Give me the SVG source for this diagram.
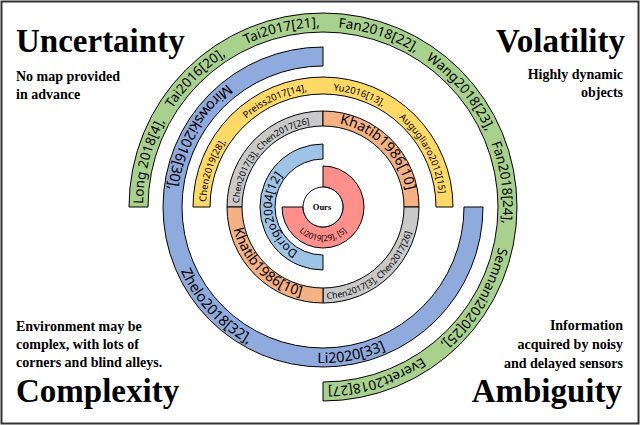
<svg xmlns="http://www.w3.org/2000/svg" width="640" height="425" viewBox="0 0 640 425">
<style>
.ring{stroke:#000;stroke-width:1}
.ref{font-family:"Noto Sans","Open Sans",sans-serif;fill:#000}
.big{font-family:"Liberation Serif",serif;font-weight:bold;font-size:33px}
.sub{font-family:"Liberation Serif",serif;font-weight:bold;font-size:14px}
</style>
<defs>
<path id="pg" d="M143,207 A180,180 0 1 1 323,387"/>
<path id="pb" d="M323,51 A156,156 0 1 0 479,207"/>
<path id="py" d="M206,207 A117,117 0 0 1 440,207"/>
<path id="ptl" d="M239,207 A84,84 0 0 1 323,123"/>
<path id="ptr" d="M323,122 A85,85 0 0 1 408,207"/>
<path id="pbr" d="M323,299 A92,92 0 0 0 415,207"/>
<path id="pbl" d="M231,207 A92,92 0 0 0 323,299"/>
<path id="plb" d="M305.6,254.9 A51,51 0 0 1 323,156"/>
<path id="pr" d="M291,218.6 A34,34 0 0 0 355,218.6"/>
</defs>
<rect x="1.5" y="1.5" width="637" height="422" fill="#fff" stroke="#333" stroke-width="2"/>
<g id="corners">
<text class="big" x="16" y="52">Uncertainty</text>
<text class="sub" x="16" y="81">No map  provided</text>
<text class="sub" x="16" y="99">in advance</text>
<text class="big" x="625" y="52" text-anchor="end">Volatility</text>
<text class="sub" x="623" y="79" text-anchor="end">Highly dynamic</text>
<text class="sub" x="623" y="97" text-anchor="end">objects</text>
<text class="sub" x="16" y="331">Environment  may  be</text>
<text class="sub" x="16" y="349">complex,  with  lots  of</text>
<text class="sub" x="16" y="367">corners and blind alleys.</text>
<text class="big" x="16" y="402">Complexity</text>
<text class="sub" x="623" y="330" text-anchor="end">Information</text>
<text class="sub" x="623" y="349" text-anchor="end">acquired by noisy</text>
<text class="sub" x="623" y="368" text-anchor="end">and delayed sensors</text>
<text class="big" x="622" y="402" text-anchor="end">Ambiguity</text>
</g>
<g id="green">
<path class="ring" fill="#a9d18e" d="M129,207 A194,194 0 1 1 323,401 L323,382 A175,175 0 1 0 148,207 Z"/>
<text class="ref" font-size="13.5"><textPath href="#pg" startOffset="3">Long 2018[4],</textPath></text>
<text class="ref" font-size="13.5"><textPath href="#pg" startOffset="104">Tai2016[20],</textPath></text>
<text class="ref" font-size="13.5"><textPath href="#pg" startOffset="203">Tai2017[21],</textPath></text>
<text class="ref" font-size="13.5"><textPath href="#pg" startOffset="298">Fan2018[22],</textPath></text>
<text class="ref" font-size="13.5"><textPath href="#pg" startOffset="392">Wang2018[23],</textPath></text>
<text class="ref" font-size="13.5"><textPath href="#pg" startOffset="500">Fan2018[24],</textPath></text>
<text class="ref" font-size="13.5"><textPath href="#pg" startOffset="606">Semnani2020[25],</textPath></text>
<text class="ref" font-size="13.5"><textPath href="#pg" startOffset="743">Everett2018[27]</textPath></text>
</g>
<g id="darkblue">
<path class="ring" fill="#8faadc" d="M323,47 A160,160 0 1 0 483,207 L464,207 A141,141 0 1 1 323,66 Z"/>
<text class="ref" font-size="14.5"><textPath href="#pb" startOffset="103">Mirowski2016[30],</textPath></text>
<text class="ref" font-size="14.5"><textPath href="#pb" startOffset="311">Zhelo2018[32],</textPath></text>
<text class="ref" font-size="14.5"><textPath href="#pb" startOffset="484">Li2020[33]</textPath></text>
</g>
<g id="yellow">
<path class="ring" fill="#ffd966" d="M193,207 A130,130 0 0 1 453,207 L436,207 A113,113 0 0 0 210,207 Z"/>
<text class="ref" font-size="9.5"><textPath href="#py" startOffset="5">Chen2019[28],</textPath></text>
<text class="ref" font-size="9.5"><textPath href="#py" startOffset="100">Preiss2017[14],</textPath></text>
<text class="ref" font-size="9.5"><textPath href="#py" startOffset="194">Yu2016[13],</textPath></text>
<text class="ref" font-size="9.5"><textPath href="#py" startOffset="266">Augugliaro2012[15]</textPath></text>
</g>
<g id="quad">
<path class="ring" fill="#c9c9c9" d="M227,207 A96,96 0 0 1 323,111 L323,126 A81,81 0 0 0 242,207 Z"/>
<path class="ring" fill="#f4b183" d="M323,111 A96,96 0 0 1 419,207 L404,207 A81,81 0 0 0 323,126 Z"/>
<path class="ring" fill="#c9c9c9" d="M419,207 A96,96 0 0 1 323,303 L323,288 A81,81 0 0 0 404,207 Z"/>
<path class="ring" fill="#f4b183" d="M323,303 A96,96 0 0 1 227,207 L242,207 A81,81 0 0 0 323,288 Z"/>
<text class="ref" font-size="8.8"><textPath href="#ptl" startOffset="4">Chen2017[3],  Chen2017[26]</textPath></text>
<text class="ref" font-size="14" text-anchor="middle"><textPath href="#ptr" startOffset="50%">Khatib1986[10]</textPath></text>
<text class="ref" font-size="8.8"><textPath href="#pbr" startOffset="4">Chen2017[3],  Chen2017[26]</textPath></text>
<text class="ref" font-size="14" text-anchor="middle"><textPath href="#pbl" startOffset="50%">Khatib1986[10]</textPath></text>
</g>
<g id="lightblue">
<path class="ring" fill="#9dc3e6" d="M323,144 A63,63 0 0 0 323,270 L323,255 A48,48 0 0 1 323,159 Z"/>
<text class="ref" font-size="12"><textPath href="#plb" startOffset="8">Dorigo2004[12]</textPath></text>
</g>
<g id="red">
<path class="ring" fill="#ff8f8a" d="M323,166 A41,41 0 1 1 282,207 L303,207 A20,20 0 1 0 323,187 Z"/>
<text class="ref" font-size="8" text-anchor="middle"><textPath href="#pr" startOffset="50%">Li2019[29],  [5]</textPath></text>
</g>
<g id="ours">
<circle cx="323" cy="207" r="20" fill="#fff" stroke="#000"/>
<text x="322" y="210" font-family="Liberation Serif,serif" font-weight="bold" font-size="8.5" text-anchor="middle">Ours</text>
</g>
</svg>
